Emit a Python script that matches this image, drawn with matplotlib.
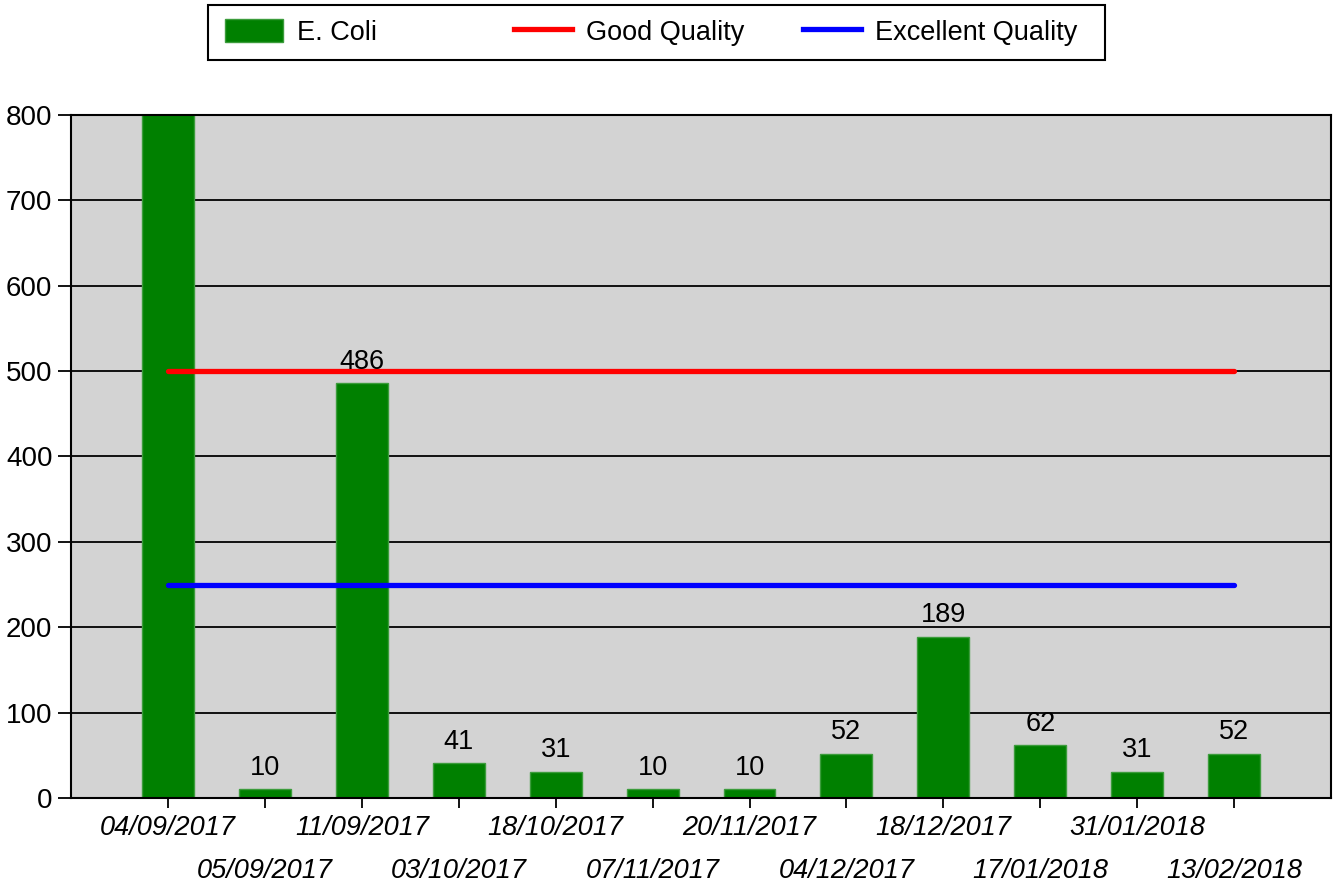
import matplotlib
matplotlib.use("Agg")
import matplotlib.pyplot as plt
from matplotlib.patches import Rectangle, Patch
from matplotlib.lines import Line2D
import numpy as np

plt.rcParams['font.family'] = ['Liberation Sans', 'DejaVu Sans']

dates = ["04/09/2017", "05/09/2017", "11/09/2017", "03/10/2017", "18/10/2017",
         "07/11/2017", "20/11/2017", "04/12/2017", "18/12/2017", "17/01/2018",
         "31/01/2018", "13/02/2018"]
ecoli = [1100, 10, 486, 41, 31, 10, 10, 52, 189, 62, 31, 52]
good_quality = [500] * len(dates)
excellent_quality = [250] * len(dates)

FS = 19.5

fig = plt.figure(figsize=(13.38, 8.83), dpi=100)
ax = fig.add_axes([0.0531, 0.0963, 0.9417, 0.7735])
ax.set_facecolor('#d3d3d3')

x = np.arange(len(dates))
bars = ax.bar(x, ecoli, width=0.536, color='#008000', edgecolor='#3c9c3c',
              linewidth=1, zorder=2)
ax.plot(x, good_quality, color='#ff0000', lw=3.8, solid_capstyle='round', zorder=3)
ax.plot(x, excellent_quality, color='#0000ff', lw=3.8, solid_capstyle='round', zorder=3)

for xi, v in zip(x, ecoli):
    if v <= 800:
        ax.annotate(str(v), (xi, v), xytext=(0, 6), textcoords='offset points',
                    ha='center', va='bottom', fontsize=FS, zorder=4)

ax.set_xlim(-1, 12)
ax.set_ylim(0, 800)
ax.set_yticks(range(0, 801, 100))
ax.yaxis.grid(True, color='black', lw=1.3, zorder=1)
ax.set_axisbelow(True)

# alternate date labels on two rows
ax.set_xticks(x[::2])
ax.set_xticklabels(dates[::2], fontstyle='italic', fontsize=FS)
ax.set_xticks(x[1::2], minor=True)
ax.set_xticklabels(dates[1::2], minor=True, fontstyle='italic', fontsize=FS)
ax.tick_params(axis='x', which='both', length=7, width=1.3)
ax.tick_params(axis='x', which='major', pad=5)
ax.tick_params(axis='x', which='minor', pad=36)
ax.tick_params(axis='y', length=9.4, width=1.3, pad=4, labelsize=20)
for s in ax.spines.values():
    s.set_linewidth(1.5)

# legend box with three evenly spaced entries
fig.patches.append(Rectangle((0.1555, 0.932), 0.6705, 0.0623, transform=fig.transFigure,
                             facecolor='white', edgecolor='black', lw=1.5, zorder=0))
handles = [Patch(facecolor='#008000', edgecolor='#3c9c3c'),
           Line2D([], [], color='#ff0000', lw=3.8),
           Line2D([], [], color='#0000ff', lw=3.8)]
names = ["E. Coli", "Good Quality", "Excellent Quality"]
starts = [0.168, 0.384, 0.600]
for h, n, sx in zip(handles, names, starts):
    fig.legend([h], [n], loc='center left', bbox_to_anchor=(sx, 0.9632),
               frameon=False, fontsize=FS, handlelength=2.15, handleheight=0.95,
               handletextpad=0.52, borderaxespad=0, borderpad=0)

fig.savefig("out.png", dpi=100)
